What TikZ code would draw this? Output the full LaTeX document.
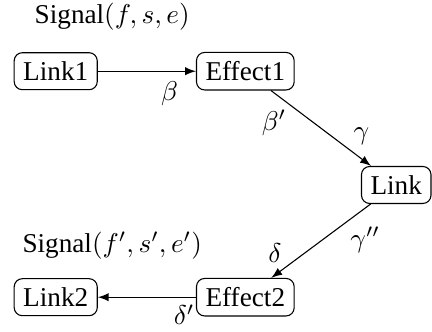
\documentclass[tikz,border=0pt]{standalone}
\usepackage{fontspec}
\setmainfont{Liberation Serif}
\usetikzlibrary{arrows,positioning}

\tikzset{
  block/.style={draw, rounded corners=3pt, inner sep=0.333em},
  lbl/.style={inner sep=1.5pt}
}

\begin{document}
\begin{tikzpicture}[>=latex]
  \useasboundingbox (0,0) rectangle (5.582,-4.277);

  \node at (1.45,-0.21) (sig1) {Signal$(f,s,e)$};
  \node[block] at (0.72,-0.92) (link1) {Link1};
  \node[block] at (3.17,-0.92) (effect1) {Effect1};
  \node[block] at (5.12,-2.39) (link) {Link};
  \node at (1.45,-3.17) (sig2) {Signal$(f',s',e')$};
  \node[block] at (3.17,-3.84) (effect2) {Effect2};
  \node[block] at (0.72,-3.84) (link2) {Link2};

  \draw[->] (link1) -- (effect1) node[lbl, pos=0.73, below=2pt]{$\beta$};
  \draw[->] (effect1) -- (link)
      node[lbl, pos=0.2, below left]{$\beta'$}
      node[lbl, pos=0.78, above right]{$\gamma$};
  \draw[->] (link) -- (effect2)
      node[lbl, pos=0.25, below right]{$\gamma''$}
      node[lbl, pos=0.85, above left]{$\delta$};
  \draw[->] (effect2) -- (link2) node[lbl, pos=0.12, below=1pt]{$\delta'$};
\end{tikzpicture}
\end{document}
